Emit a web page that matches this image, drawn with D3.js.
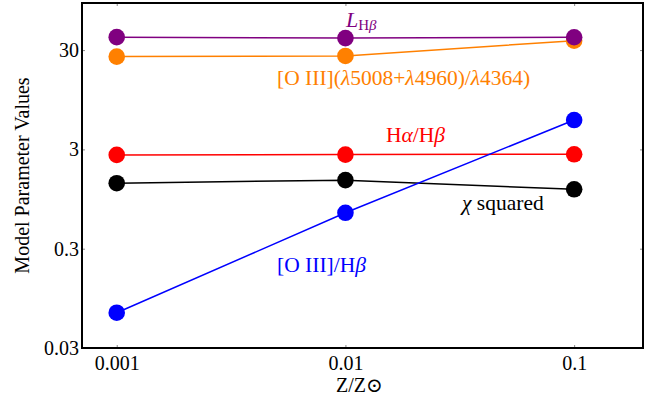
<!DOCTYPE html>
<html lang="en">
<head>
<meta charset="utf-8">
<title>Model Parameter Values</title>
<script src="https://cdnjs.cloudflare.com/ajax/libs/d3/7.8.5/d3.min.js"></script>
<style>
body{
  margin:0;
  background:#fff;
}
svg, svg text, svg tspan{
  font-family:"Liberation Serif","Times New Roman",Times,"DejaVu Serif",serif !important;
}
.axis path{
  fill:none;
  stroke:none;
}
.axis line{
  stroke:#888;
}
.axis text{
  font-size:20px;
  fill:#000;
}
</style>
</head>
<body>
<div id="chart"></div>
<script>
// metallicity grid
const metallicity = [0.001, 0.01, 0.1];
const xTicks = [0.001, 0.01, 0.1];
const yTicks = [0.03, 0.3, 3, 30];

// model parameters
const lumHb   = [40.5, 39.6, 40.4];
const oiiiTemp = [25.8, 26.2, 37.3];
const haHb    = [2.64, 2.66, 2.68];
const chiSq   = [1.37, 1.47, 1.19];
const oiiiHb  = [0.068, 0.69, 5.93];

const series = [
  {name:"chi", values:chiSq, color:"#000000"},
  {name:"hahb", values:haHb, color:"#ff0000"},
  {name:"oiiihb", values:oiiiHb, color:"#0000ff"},
  {name:"oiiitemp", values:oiiiTemp, color:"#ff8000"},
  {name:"lhb", values:lumHb, color:"#800080"}
];

var margin = {top:3, right:10, bottom:55, left:82};
var w = 643 - margin.left, h = 348 - margin.top;

var svg = d3.select("#chart").append("svg")
  .attr("width", 653).attr("height", 403);

var chart = svg.append("g")
  .attr("transform", "translate(" + margin.left + "," + margin.top + ")");

var x = d3.scaleLog().domain([0.000705, 0.2]).range([0, w]);
var y = d3.scaleLog().domain([0.03, 89.4]).range([h, 0]);

// axes with small inward ticks
chart.append("g").attr("class","axis")
  .attr("transform","translate(0," + h + ")")
  .call(d3.axisBottom(x).tickValues(xTicks).tickSize(-3).tickPadding(8)
    .tickFormat(d3.format("")));
chart.append("g").attr("class","axis")
  .call(d3.axisTop(x).tickValues(xTicks).tickSize(-3).tickFormat(""));
chart.append("g").attr("class","axis")
  .call(d3.axisLeft(y).tickValues(yTicks).tickSize(-3).tickPadding(3)
    .tickFormat(d3.format("")));
chart.append("g").attr("class","axis")
  .attr("transform","translate(" + w + ",0)")
  .call(d3.axisRight(y).tickValues(yTicks).tickSize(-3).tickFormat(""));

var line = d3.line()
  .x(function(d,i){ return x(metallicity[i]); })
  .y(function(d){ return y(d); });

series.forEach(function(s){
  chart.append("path")
    .datum(s.values)
    .attr("d", line)
    .attr("fill","none")
    .attr("stroke", s.color)
    .attr("stroke-width", 1.5);
  chart.selectAll(".dot-" + s.name)
    .data(s.values)
    .enter().append("circle")
    .attr("cx", function(d,i){ return x(metallicity[i]); })
    .attr("cy", function(d){ return y(d); })
    .attr("r", 8.3)
    .attr("fill", s.color);
});

// frame
chart.append("rect")
  .attr("width", w).attr("height", h)
  .attr("fill","none").attr("stroke","#000").attr("stroke-width",2);

// annotations
var lab = svg.append("g").style("font-size","21.5px");

var t1 = lab.append("text").attr("x",346).attr("y",27).attr("fill","#800080");
t1.append("tspan").style("font-style","italic").style("font-size","22px").text("L");
t1.append("tspan").attr("dy",3).style("font-size","15px").text("H");
t1.append("tspan").style("font-size","15px").style("font-style","italic").text("β");

var t2 = lab.append("text").attr("x",277).attr("y",85).attr("fill","#ff8000");
t2.append("tspan").text("[O III](");
t2.append("tspan").style("font-style","italic").text("λ");
t2.append("tspan").text("5008+");
t2.append("tspan").style("font-style","italic").text("λ");
t2.append("tspan").text("4960)/");
t2.append("tspan").style("font-style","italic").text("λ");
t2.append("tspan").text("4364)");

var t3 = lab.append("text").attr("x",386).attr("y",142).attr("fill","#ff0000");
t3.append("tspan").text("H");
t3.append("tspan").style("font-style","italic").text("α");
t3.append("tspan").text("/H");
t3.append("tspan").style("font-style","italic").text("β");

var t4 = lab.append("text").attr("x",462).attr("y",210).attr("fill","#000");
t4.append("tspan").style("font-style","italic").text("χ");
t4.append("tspan").text(" squared");

var t5 = lab.append("text").attr("x",277).attr("y",272).attr("fill","#0000ff");
t5.append("tspan").text("[O III]/H");
t5.append("tspan").style("font-style","italic").text("β");

// axis titles
svg.append("text")
  .attr("x",336).attr("y",392)
  .style("font-size","20px")
  .text("Z/Z⊙");

svg.append("text")
  .attr("transform","translate(29," + (margin.top + h/2) + ") rotate(-90)")
  .attr("text-anchor","middle")
  .style("font-size","20px")
  .text("Model Parameter Values");
</script>
</body>
</html>
